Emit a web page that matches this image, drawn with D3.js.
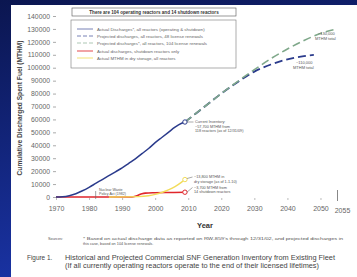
<!DOCTYPE html>
<html><head><meta charset="utf-8">
<script src="https://cdn.jsdelivr.net/npm/d3@7"></script>
<style>html,body{margin:0;padding:0;background:#fff;}svg{display:block;}</style>
</head><body>
<script>
// ---- data ----
const actualYears = [1970,1972,1974,1976,1978,1980,1982,1984,1986,1988,1990,1992,1994,1996,1998,2000,2002,2004,2006,2008,2009];
const actualVals  = [0,200,1000,2500,4800,7500,10500,13500,16500,19500,22500,26000,29500,33500,37500,42000,46000,50000,54000,57000,58000];
const proj48Years = [2009,2015,2020,2025,2030,2035,2040,2045,2048];
const proj48Vals  = [58000,70000,80000,89000,97000,102500,106500,109000,110000];
const proj104Years = [2009,2015,2020,2025,2030,2035,2040,2045,2050,2055];
const proj104Vals  = [58000,70000,80000,89500,98500,107000,114500,121000,126500,130000];
const shutYears = [1970,1993,1994,1995,1996,1997,2000,2005,2009];
const shutVals  = [0,0,500,1500,2500,3000,3300,3500,3700];
const dryYears = [1986,1995,1998,2000,2002,2004,2006,2008,2009];
const dryVals  = [0,300,1000,2000,3500,5500,8000,11500,13500];
const xTicks = [1970,1980,1990,2000,2010,2020,2030,2040,2050,2055];
const yTicks = [0,10000,20000,30000,40000,50000,60000,70000,80000,90000,100000,110000,120000,130000,140000];
const legendLabels = [
  "Actual Discharges*, all reactors (operating & shutdown)",
  "Projected discharges, all reactors, 48 license renewals",
  "Projected discharges*, all reactors, 104 license renewals",
  "Actual discharges, shutdown reactors only",
  "Actual MTHM in dry storage, all reactors"
];

const W=357,H=277;
const svg=d3.select("body").append("svg").attr("width",W).attr("height",H);
const defs=svg.append("defs");
const g1=defs.append("linearGradient").attr("id","bg").attr("x1",0).attr("y1",0).attr("x2",0.3).attr("y2",1);
g1.append("stop").attr("offset","0%").attr("stop-color","#0b1650");
g1.append("stop").attr("offset","100%").attr("stop-color","#1a34a8");
svg.append("rect").attr("width",W).attr("height",H).attr("fill","url(#bg)");
svg.append("rect").attr("x",11).attr("y",5).attr("width",W-11).attr("height",H-5).attr("fill","#fff");

const font="'Liberation Sans', Arial, sans-serif";
const x=d3.scaleLinear().domain([1970,2055]).range([56,337]);
const y=d3.scaleLinear().domain([0,140000]).range([197,16]);

// y axis
const ya=svg.append("g").attr("transform","translate(56,0)")
  .call(d3.axisLeft(y).tickValues(yTicks).tickFormat(d3.format("d")).tickSize(3).tickPadding(3));
ya.select(".domain").remove();
ya.selectAll("line").attr("stroke","#aaa");
ya.selectAll("text").attr("font-family",font).attr("font-size",6.8).attr("fill","#666");

// x axis
const xa=svg.append("g").attr("transform","translate(0,198)")
  .call(d3.axisBottom(x).tickValues(xTicks).tickFormat(d3.format("d")).tickSize(2).tickPadding(6));
xa.select(".domain").remove();
xa.selectAll("line").attr("stroke","#bbb");
xa.selectAll("text").attr("font-family",font).attr("font-size",7).attr("fill","#666");
xa.selectAll(".tick").filter(d=>d===2055).select("line").attr("y1",-8).attr("y2",3).attr("stroke","#888");
xa.selectAll(".tick").filter(d=>d===2055).select("text").attr("dx",5).attr("dy","1.05em");

svg.append("text").attr("x",205).attr("y",228).attr("text-anchor","middle")
  .attr("font-family",font).attr("font-weight","bold").attr("font-size",7.5).attr("fill","#333").text("Year");
svg.append("text").attr("transform","translate(22,108) rotate(-90)").attr("text-anchor","middle")
  .attr("font-family",font).attr("font-weight","bold").attr("font-size",6.6).attr("fill","#444")
  .text("Cumulative Discharged Spent Fuel (MTHM)");

const line=d3.line().x(d=>x(d[0])).y(d=>y(d[1])).curve(d3.curveMonotoneX);
const zip=(a,b)=>a.map((v,i)=>[v,b[i]]);

const cBlue="#2b3b8c", cGreen="#7fa88a", cRed="#e0262b", cYellow="#f2dc5a";
svg.append("path").datum(zip(shutYears,shutVals)).attr("d",line).attr("fill","none").attr("stroke",cRed).attr("stroke-width",1.6);
svg.append("path").datum(zip(dryYears,dryVals)).attr("d",line).attr("fill","none").attr("stroke",cYellow).attr("stroke-width",1.4);
svg.append("path").datum(zip(proj48Years,proj48Vals)).attr("d",line).attr("fill","none").attr("stroke",cBlue).attr("stroke-width",1.8).attr("stroke-dasharray","8,4");
svg.append("path").datum(zip(proj104Years,proj104Vals)).attr("d",line).attr("fill","none").attr("stroke",cGreen).attr("stroke-width",1.6).attr("stroke-dasharray","8,4");
svg.append("path").datum(zip(actualYears,actualVals)).attr("d",line).attr("fill","none").attr("stroke",cBlue).attr("stroke-width",1.5);

// end dots
const dots=[[actualYears,actualVals,cBlue],[dryYears,dryVals,cYellow],[shutYears,shutVals,cRed]];
dots.forEach(([ys,vs,c])=>{
  svg.append("circle").attr("cx",x(ys[ys.length-1])).attr("cy",y(vs[vs.length-1])).attr("r",2.2)
    .attr("fill","#fff").attr("stroke",c).attr("stroke-width",1);
});

// NWPA marker
svg.append("line").attr("x1",x(1982)).attr("x2",x(1982)).attr("y1",191).attr("y2",199).attr("stroke","#666").attr("stroke-width",0.6);
const small=(tx,ty,s,fs,anchor)=>svg.append("text").attr("x",tx).attr("y",ty).attr("font-family",font)
  .attr("font-size",fs||4).attr("fill","#555").attr("text-anchor",anchor||"start").text(s);
small(99,191,"Nuclear Waste",3.6);
small(99,195,"Policy Act (1982)",3.6);

// annotations
const ann=(lines,tx,ty,ax,ay)=>{
  lines.forEach((s,i)=>small(tx,ty+i*4.6,s,3.8));
  svg.append("line").attr("x1",tx-1.5).attr("y1",ty-1).attr("x2",ax).attr("y2",ay).attr("stroke","#555").attr("stroke-width",0.5);
};
ann(["Current Inventory:","~57,700 MTHM from","118 reactors (as of 12/31/09)"],195,123,x(2009)+2,y(58000));
ann(["~13,800 MTHM in","dry storage (as of 1-1-10)"],194,178,x(2009)+2,y(13500)-1);
ann(["~3,700 MTHM from","14 shutdown reactors"],194,188.5,x(2009)+2,y(3700));
small(296,64,"~110,000",4);
small(293,69,"MTHM total",4);
small(318,35,"~130,000",4);
small(315,40,"MTHM total",4);

// title box
svg.append("rect").attr("x",72).attr("y",8).attr("width",164).attr("height",8).attr("fill","#fff").attr("stroke","#555").attr("stroke-width",0.6);
svg.append("text").attr("x",154).attr("y",13.8).attr("text-anchor","middle").attr("font-family",font).attr("font-weight","bold")
  .attr("font-size",4.6).attr("fill","#333").text("There are 104 operating reactors and 14 shutdown reactors");

// legend
svg.append("rect").attr("x",71).attr("y",20).attr("width",165).attr("height",48).attr("fill","#fff").attr("stroke","#777").attr("stroke-width",0.6);
const legStyles=[[cBlue,null,0.9],[cBlue,"4,2",0.9],[cGreen,"4,2",0.9],[cRed,null,1.2],[cYellow,null,1.2]];
const legY=[29,36,43,51,58];
legendLabels.forEach((s,i)=>{
  const [c,da,w]=legStyles[i];
  const l=svg.append("line").attr("x1",77).attr("x2",93).attr("y1",legY[i]).attr("y2",legY[i]).attr("stroke",c).attr("stroke-width",w).attr("opacity",0.7);
  if(da) l.attr("stroke-dasharray",da);
  svg.append("text").attr("x",97).attr("y",legY[i]+1.5).attr("font-family",font).attr("font-size",4.4).attr("fill","#666").text(s);
});

// footer
small(48,240,"Sources:",3.8);
svg.append("text").attr("x",83).attr("y",240).attr("font-family",font).attr("font-size",3.8).attr("fill","#555")
  .attr("textLength",260).attr("lengthAdjust","spacingAndGlyphs")
  .text("* Based on actual discharge data as reported on RW-859's through 12/31/02, and projected discharges in");
small(83,245,"this case, based on 104 license renewals.",3.8);
svg.append("text").attr("x",27).attr("y",260).attr("font-family",font).attr("font-size",6.4).attr("fill","#444").text("Figure 1.");
svg.append("text").attr("x",65).attr("y",260).attr("font-family",font).attr("font-size",6.4).attr("fill","#444")
  .attr("textLength",270).attr("lengthAdjust","spacingAndGlyphs")
  .text("Historical and Projected Commercial SNF Generation Inventory from Existing Fleet");
svg.append("text").attr("x",65).attr("y",268).attr("font-family",font).attr("font-size",6.4).attr("fill","#444")
  .attr("textLength",254).attr("lengthAdjust","spacingAndGlyphs")
  .text("(If all currently operating reactors operate to the end of their licensed lifetimes)");
</script>
</body></html>
